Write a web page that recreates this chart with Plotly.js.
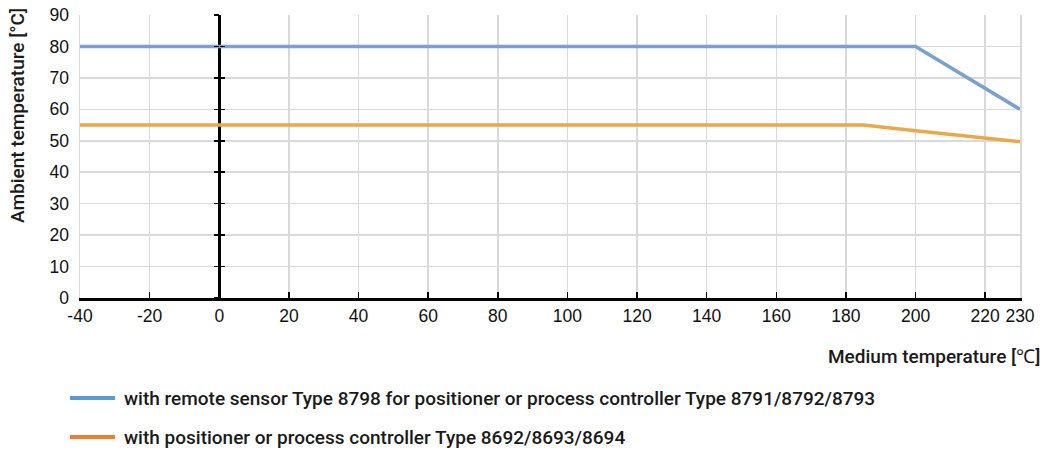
<!DOCTYPE html>
<html>
<head>
<meta charset="utf-8">
<script src="https://cdn.plot.ly/plotly-3.0.1.min.js"></script>
<style>html,body{margin:0;padding:0;background:#fff;}#chart{width:1043px;height:453px;}</style>
</head>
<body>
<div id="chart"></div>
<script>
// Data
const remoteX = [-40, 200, 230];
const remoteY = [80, 80, 60];
const positionerX = [-40, 185, 200, 230];
const positionerY = [55, 55, 53.2, 49.7];
const xTicks = [-40, -20, 0, 20, 40, 60, 80, 100, 120, 140, 160, 180, 200, 220, 230];
const yTicks = [0, 10, 20, 30, 40, 50, 60, 70, 80, 90];
const seriesNames = [
  'with remote sensor Type 8798 for positioner or process controller Type 8791/8792/8793',
  'with positioner or process controller Type 8692/8693/8694'
];
const xTitle = 'Medium temperature [℃]';
const yTitle = 'Ambient temperature [°C]';

const FONT = 'Liberation Sans, Arial, sans-serif';
const TFONT = 'Roboto, Liberation Sans, sans-serif';
const grid = '#d9d9d9';
const xRange = [-40, 230];
const yRange = [0, 90];
const zeroPos = (0 - xRange[0]) / (xRange[1] - xRange[0]);

const traces = [
  {x: remoteX, y: remoteY, mode: 'lines', line: {color: '#7ba0cf', width: 3.5}, name: seriesNames[0], showlegend: false, hoverinfo: 'skip'},
  {x: positionerX, y: positionerY, mode: 'lines', line: {color: '#e9a94b', width: 3.5}, name: seriesNames[1], showlegend: false, hoverinfo: 'skip'},
  {x: remoteX, y: remoteY, yaxis: 'y2', mode: 'lines', opacity: 0, showlegend: false, hoverinfo: 'skip'},
  {x: remoteX, y: remoteY, yaxis: 'y3', mode: 'lines', opacity: 0, showlegend: false, hoverinfo: 'skip'}
];

const legendY = [398, 437];
const legendColors = ['#5b9bd5', '#ed7d31'];
const plotTop = 15, plotBottom = 298, plotLeft = 80, plotRight = 1020;
const px2x = p => (p - plotLeft) / (plotRight - plotLeft);
const px2y = p => (plotBottom - p) / (plotBottom - plotTop);
const tf = {family: TFONT, size: 19, color: '#1a1a1a', weight: 500};

const shapes = [];
const annotations = [];
seriesNames.forEach((n, i) => {
  shapes.push({type: 'line', xref: 'paper', yref: 'paper', x0: px2x(70), x1: px2x(115), y0: px2y(legendY[i]), y1: px2y(legendY[i]), line: {color: legendColors[i], width: 4}});
  annotations.push({xref: 'paper', yref: 'paper', x: px2x(122), y: px2y(legendY[i]), xanchor: 'left', yanchor: 'middle', showarrow: false, text: n, font: tf});
});
annotations.push({xref: 'paper', yref: 'paper', x: px2x(1042), y: px2y(356), xanchor: 'right', yanchor: 'middle', showarrow: false, text: xTitle, font: tf});
annotations.push({xref: 'paper', yref: 'paper', x: px2x(17), y: px2y(116), xanchor: 'center', yanchor: 'middle', showarrow: false, textangle: -90, text: yTitle, font: tf});

const layout = {
  width: 1043, height: 453,
  margin: {l: plotLeft, r: 1043 - plotRight, t: plotTop, b: 453 - plotBottom},
  paper_bgcolor: '#fff', plot_bgcolor: '#fff',
  showlegend: false,
  font: {family: FONT, size: 16, color: '#111'},
  xaxis: {
    range: xRange, tickmode: 'array', tickvals: xTicks, ticktext: xTicks.map(String),
    showgrid: true, gridcolor: grid, gridwidth: 1.5,
    zeroline: true, zerolinecolor: '#000', zerolinewidth: 2.5,
    showline: true, linecolor: '#000', linewidth: 2.5,
    ticks: 'inside', ticklen: 6, tickcolor: '#000', tickwidth: 1.5,
    tickfont: {family: FONT, size: 17.5, color: '#111'}
  },
  yaxis: {
    range: yRange, tickmode: 'array', tickvals: yTicks,
    showgrid: true, gridcolor: grid, gridwidth: 1.5,
    zeroline: false, showline: true, linecolor: grid, linewidth: 1.5, mirror: true,
    ticks: '', ticklabelstandoff: 6,
    tickfont: {family: FONT, size: 17.5, color: '#111'}
  },
  yaxis2: {
    overlaying: 'y', anchor: 'free', position: zeroPos, range: yRange, tickmode: 'array', tickvals: yTicks,
    showgrid: false, zeroline: false, showline: false, showticklabels: false,
    ticks: 'outside', ticklen: 5, tickcolor: '#000', tickwidth: 1.5
  },
  yaxis3: {
    overlaying: 'y', anchor: 'free', position: zeroPos, range: yRange, tickmode: 'array', tickvals: yTicks,
    showgrid: false, zeroline: false, showline: false, showticklabels: false,
    ticks: 'inside', ticklen: 5, tickcolor: '#000', tickwidth: 1.5
  },
  shapes: shapes,
  annotations: annotations
};

Plotly.newPlot('chart', traces, layout, {staticPlot: true, displayModeBar: false});
</script>
</body>
</html>
